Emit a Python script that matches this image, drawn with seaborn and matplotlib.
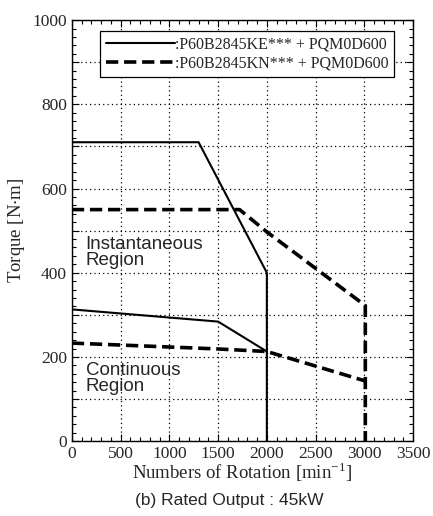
import numpy as np
import pandas as pd
import matplotlib.pyplot as plt
import seaborn as sns
from matplotlib.ticker import MultipleLocator

# speed [min^-1] / torque [N*m]
ke_inst_speed = [0, 1300, 2000, 2000]
ke_inst_torque = [710, 710, 400, 0]
ke_cont_speed = [0, 1500, 2000]
ke_cont_torque = [313, 284, 213]

kn_inst_speed = [0, 1720, 2000, 3010, 3010]
kn_inst_torque = [550, 550, 497, 322, 0]
kn_cont_speed = [0, 1500, 2000, 3010]
kn_cont_torque = [233, 219, 213, 143]

legend_labels = [':P60B2845KE*** + PQM0D600', ':P60B2845KN*** + PQM0D600']

sns.set_style("ticks")
plt.rcParams['font.family'] = ['Liberation Serif', 'DejaVu Serif']
plt.rcParams['mathtext.fontset'] = 'stix'

fig = plt.figure(figsize=(4.33, 5.16), dpi=100)
ax = fig.add_axes([0.166, 0.145, 0.788, 0.816])

solid = dict(color='black', lw=1.5, linestyle='-')
dashed = dict(color='black', lw=2.6, linestyle=(0, (3.4, 1.6)))

# estimator=None so repeated speeds (vertical drops) are kept as they are
sns.lineplot(x=ke_inst_speed, y=ke_inst_torque, sort=False, estimator=None, ax=ax,
             label=legend_labels[0], **solid)
sns.lineplot(x=ke_cont_speed, y=ke_cont_torque, sort=False, estimator=None, ax=ax, **solid)
sns.lineplot(x=kn_inst_speed, y=kn_inst_torque, sort=False, estimator=None, ax=ax,
             label=legend_labels[1], **dashed)
sns.lineplot(x=kn_cont_speed, y=kn_cont_torque, sort=False, estimator=None, ax=ax, **dashed)

ax.set_xlim(0, 3500)
ax.set_ylim(0, 1000)
ax.xaxis.set_major_locator(MultipleLocator(500))
ax.xaxis.set_minor_locator(MultipleLocator(100))
ax.yaxis.set_major_locator(MultipleLocator(100))
ax.yaxis.set_minor_locator(MultipleLocator(20))
ax.set_yticks(np.arange(0, 1001, 100))
ax.set_yticklabels([str(v) if v % 200 == 0 else '' for v in range(0, 1001, 100)])

ax.grid(True, which='major', color='black', linestyle=(0, (1, 2.5)), lw=0.9)
ax.tick_params(which='both', direction='in', top=True, right=True, labelsize=12.5, color='black')
ax.tick_params(which='major', length=5, width=0.8)
ax.tick_params(which='minor', length=3, width=0.8)
for s in ax.spines.values():
    s.set_color('black')
    s.set_linewidth(1.0)

ax.set_xlabel('Numbers of Rotation [min$^{\\mathregular{-1}}$]', fontsize=13.5, labelpad=-1)
ax.set_ylabel('Torque [N$\\cdot$m]', fontsize=13.5, labelpad=4)

ax.text(140, 488, 'Instantaneous\nRegion', family=['Liberation Sans', 'DejaVu Sans'],
        fontsize=13.5, va='top', ha='left', linespacing=0.95)
ax.text(140, 188, 'Continuous\nRegion', family=['Liberation Sans', 'DejaVu Sans'],
        fontsize=13.5, va='top', ha='left', linespacing=0.95)

leg = ax.legend(loc='upper right', bbox_to_anchor=(0.944, 0.975), fontsize=11.5, frameon=True,
                fancybox=False, framealpha=1, edgecolor='black', handlelength=4.3,
                handletextpad=0.0, borderpad=0.35, labelspacing=0.2, borderaxespad=0)
leg.get_frame().set_linewidth(0.9)

fig.text(0.53, 0.031, '(b) Rated Output : 45kW', ha='center', va='center',
         family=['Liberation Sans', 'DejaVu Sans'], fontsize=12.5)

fig.savefig('out.png', dpi=100)
